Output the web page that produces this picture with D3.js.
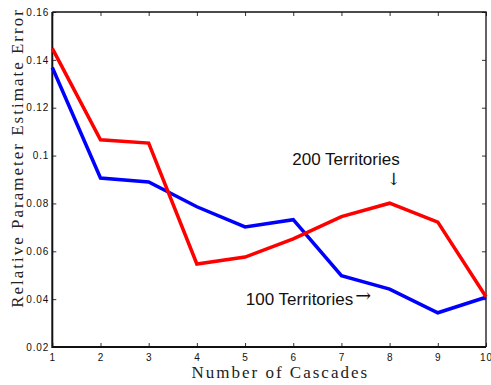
<!DOCTYPE html>
<html lang="en">
<head>
<meta charset="UTF-8">
<script src="https://d3js.org/d3.v7.min.js"></script>
<style>
  body { margin: 0; background: #fff; }
  .tick text { font-family: "Liberation Sans", Arial, sans-serif; font-size: 10px; letter-spacing: 0.9px; fill: #111; }
  .lab { font-family: "Liberation Serif", "Times New Roman", serif; font-size: 17px; letter-spacing: 2px; fill: #222; }
  .ann { font-family: "Liberation Sans", Arial, sans-serif; font-size: 17px; fill: #111; }
</style>
</head>
<body>
<div id="chart"></div>
<script>
// number of cascades
var cascades = [1, 2, 3, 4, 5, 6, 7, 8, 9, 10];
// relative parameter estimate error
var err200 = [0.1448, 0.1066, 0.1052, 0.0547, 0.0576, 0.0652, 0.0745, 0.0801, 0.0722, 0.0410];
var err100 = [0.1368, 0.0906, 0.0890, 0.0786, 0.0702, 0.0732, 0.0498, 0.0442, 0.0343, 0.0408];
var yTicks = [0.02, 0.04, 0.06, 0.08, 0.1, 0.12, 0.14, 0.16];
var yTickLabels = ["0.02", "0.04", "0.06", "0.08", "0.1", "0.12", "0.14", "0.16"];

var margin = {top: 12, right: 5, bottom: 38, left: 52.3},
    width = 491 - margin.left - margin.right,
    height = 385 - margin.top - margin.bottom;

var svg = d3.select("#chart")
  .append("svg")
    .attr("width", 491)
    .attr("height", 385)
  .append("g")
    .attr("transform", "translate(" + margin.left + "," + margin.top + ")");

var x = d3.scaleLinear().domain([1, 10]).range([0, width]);
var y = d3.scaleLinear().domain([0.02, 0.16]).range([height, 0]);

// axes, ticks pointing inward like matlab
svg.append("g")
  .attr("transform", "translate(0," + height + ")")
  .call(d3.axisBottom(x).tickValues(cascades).tickFormat(d3.format("d")).tickSizeInner(-4).tickSizeOuter(0).tickPadding(7))
  .call(function(g) { g.select(".domain").remove(); });

svg.append("g")
  .call(d3.axisLeft(y).tickValues(yTicks).tickFormat(function(d, i) { return yTickLabels[i]; }).tickSizeInner(-4).tickSizeOuter(0).tickPadding(3))
  .call(function(g) { g.select(".domain").remove(); });

svg.append("g")
  .call(d3.axisTop(x).tickValues(cascades).tickFormat("").tickSizeInner(-4).tickSizeOuter(0))
  .call(function(g) { g.select(".domain").remove(); });

svg.append("g")
  .attr("transform", "translate(" + width + ",0)")
  .call(d3.axisRight(y).tickValues(yTicks).tickFormat("").tickSizeInner(-4).tickSizeOuter(0))
  .call(function(g) { g.select(".domain").remove(); });

svg.selectAll(".tick line").attr("stroke", "#333").attr("stroke-width", 1);

// box
svg.append("path")
  .attr("d", "M0,0H" + width + "V" + height)
  .attr("fill", "none").attr("stroke", "#111").attr("stroke-width", 1.3);
svg.append("path")
  .attr("d", "M0,0V" + height + "H" + width)
  .attr("fill", "none").attr("stroke", "#111").attr("stroke-width", 2);

var line = d3.line()
  .x(function(d, i) { return x(cascades[i]); })
  .y(function(d) { return y(d); });

svg.append("path")
  .datum(err100)
  .attr("d", line)
  .attr("fill", "none")
  .attr("stroke", "#0000ff")
  .attr("stroke-width", 3.5);

svg.append("path")
  .datum(err200)
  .attr("d", line)
  .attr("fill", "none")
  .attr("stroke", "#ff0000")
  .attr("stroke-width", 3.5);

// axis labels
svg.append("text")
  .attr("class", "lab")
  .attr("x", 228)
  .attr("y", height + 31)
  .attr("text-anchor", "middle")
  .text("Number of Cascades");

svg.append("text")
  .attr("class", "lab")
  .attr("transform", "translate(-29," + 146 + ")rotate(-90)")
  .attr("text-anchor", "middle")
  .text("Relative Parameter Estimate Error");

// annotations
svg.append("text")
  .attr("class", "ann")
  .attr("x", 240)
  .attr("y", 153)
  .text("200 Territories");
svg.append("text")
  .attr("class", "ann")
  .attr("x", x(8) + 4)
  .attr("y", 173)
  .attr("text-anchor", "middle")
  .style("font-family", "'DejaVu Serif', serif")
  .style("font-size", "17px")
  .text("\u2193");

svg.append("text")
  .attr("class", "ann")
  .attr("x", 193.5)
  .attr("y", 293)
  .text("100 Territories");
svg.append("text")
  .attr("class", "ann")
  .attr("x", 303)
  .attr("y", 290)
  .style("font-family", "'DejaVu Serif', serif")
  .style("font-size", "19px")
  .text("\u2192");
</script>
</body>
</html>
